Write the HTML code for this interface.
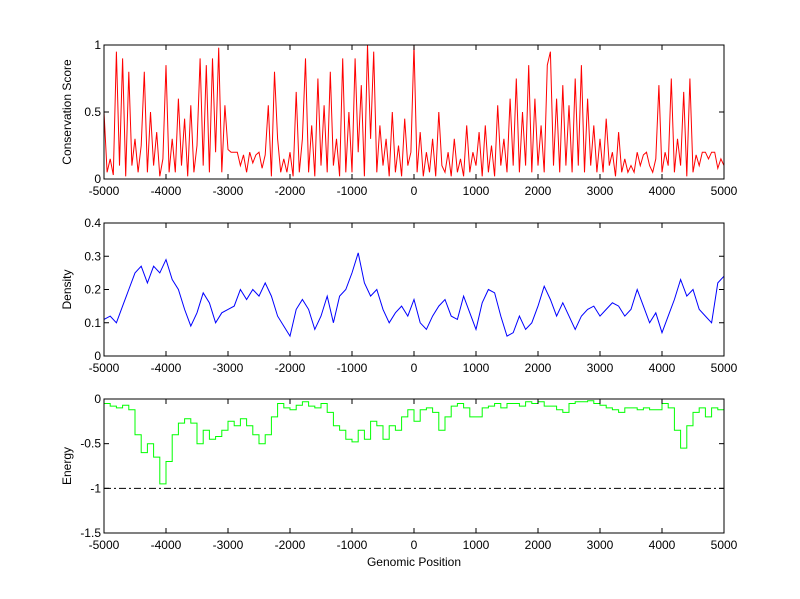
<!DOCTYPE html>
<html><head><meta charset="utf-8"><style>
html,body{margin:0;padding:0;background:#fff;}
svg{display:block;font-family:"Liberation Sans",Arial,sans-serif;font-size:12px;}
</style></head><body>
<svg id="fig" width="800" height="599" viewBox="0 0 800 599" xmlns="http://www.w3.org/2000/svg">
<rect width="800" height="599" fill="#fff"/>
</svg>
<script>
const xTicks=[-5000,-4000,-3000,-2000,-1000,0,1000,2000,3000,4000,5000];
const consTicks=[0,0.5,1];
const densTicks=[0,0.1,0.2,0.3,0.4];
const energyTicks=[-1.5,-1,-0.5,0];
const consStart=-5000, consStep=50;
const conservation=[0.5,0.05,0.15,0.03,0.95,0.1,0.9,0.02,0.8,0.1,
0.3,0.05,0.25,0.8,0.05,0.5,0.1,0.35,0.02,0.15,
0.85,0.05,0.3,0.05,0.6,0.1,0.45,0.02,0.55,0.05,
0.25,0.9,0.1,0.85,0.05,0.9,0.2,0.98,0.05,0.55,
0.22,0.2,0.2,0.2,0.1,0.18,0.05,0.2,0.12,0.18,
0.2,0.08,0.18,0.55,0.02,0.8,0.3,0.05,0.15,0.05,
0.2,0.02,0.65,0.05,0.3,0.9,0.05,0.4,0.02,0.75,
0.1,0.55,0.05,0.8,0.1,0.3,0.02,0.9,0.05,0.5,
0.05,0.9,0.2,0.7,0.02,1.0,0.3,0.95,0.05,0.4,
0.1,0.3,0.02,0.5,0.05,0.25,0.02,0.45,0.1,0.2,
1.0,0.05,0.35,0.02,0.2,0.05,0.3,0.02,0.5,0.1,
0.05,0.2,0.02,0.3,0.05,0.15,0.02,0.4,0.05,0.2,
0.1,0.35,0.02,0.4,0.05,0.25,0.02,0.55,0.1,0.3,
0.05,0.6,0.1,0.75,0.05,0.5,0.1,0.85,0.05,0.6,
0.1,0.4,0.05,0.85,0.95,0.1,0.6,0.05,0.7,0.1,
0.55,0.05,0.75,0.1,0.85,0.05,0.6,0.1,0.4,0.05,
0.3,0.05,0.45,0.1,0.2,0.02,0.35,0.05,0.15,0.05,
0.1,0.05,0.2,0.1,0.18,0.2,0.1,0.05,0.15,0.7,
0.05,0.2,0.1,0.75,0.05,0.3,0.1,0.65,0.02,0.75,
0.05,0.18,0.1,0.2,0.2,0.15,0.2,0.2,0.08,0.15,0.1];
const densStart=-5000, densStep=100;
const density=[0.11,0.12,0.1,0.15,0.2,0.25,0.27,0.22,0.27,0.25,0.29,0.23,0.2,0.14,0.09,0.13,0.19,0.16,0.1,0.13,
0.14,0.15,0.2,0.17,0.2,0.18,0.22,0.18,0.12,0.09,0.06,0.14,0.17,0.14,0.08,0.12,0.18,0.1,0.18,0.2,
0.25,0.31,0.22,0.18,0.2,0.14,0.1,0.13,0.15,0.12,0.17,0.1,0.08,0.12,0.15,0.17,0.12,0.11,0.18,0.13,
0.08,0.16,0.2,0.19,0.12,0.06,0.07,0.12,0.08,0.1,0.15,0.21,0.17,0.12,0.16,0.12,0.08,0.12,0.14,0.15,
0.12,0.14,0.16,0.15,0.12,0.14,0.2,0.15,0.1,0.13,0.07,0.12,0.17,0.23,0.18,0.2,0.14,0.12,0.1,0.22,0.24];
const energyStart=-5000, energyStep=100;
const energy=[-0.05,-0.08,-0.1,-0.07,-0.12,-0.4,-0.6,-0.5,-0.65,-0.95,-0.7,-0.4,-0.27,-0.22,-0.27,-0.5,-0.35,-0.45,-0.42,-0.35,
-0.25,-0.3,-0.22,-0.3,-0.4,-0.5,-0.4,-0.2,-0.05,-0.1,-0.12,-0.07,-0.03,-0.08,-0.1,-0.05,-0.15,-0.3,-0.35,-0.45,
-0.48,-0.35,-0.45,-0.25,-0.3,-0.45,-0.3,-0.35,-0.2,-0.12,-0.25,-0.12,-0.1,-0.15,-0.35,-0.2,-0.08,-0.05,-0.1,-0.2,
-0.2,-0.1,-0.08,-0.05,-0.1,-0.05,-0.05,-0.08,-0.03,-0.05,-0.03,-0.08,-0.08,-0.12,-0.15,-0.05,-0.03,-0.03,-0.02,-0.05,
-0.07,-0.1,-0.12,-0.15,-0.1,-0.1,-0.12,-0.1,-0.12,-0.12,-0.05,-0.1,-0.35,-0.55,-0.3,-0.15,-0.1,-0.2,-0.1,-0.12,-0.15];
const threshold=-1;

const NS="http://www.w3.org/2000/svg";
const svg=document.getElementById('fig');
const X0=104,X1=724;
function xs(v){return X0+(v+5000)/10000*(X1-X0);}
function mk(tag,attrs,parent){const e=document.createElementNS(NS,tag);for(const k in attrs)e.setAttribute(k,attrs[k]);(parent||svg).appendChild(e);return e;}

function axes(name,top,bot,ymin,ymax,yt,ylabel){
  const ys=v=>bot-(v-ymin)/(ymax-ymin)*(bot-top);
  const g=mk('g',{});
  
  
  return {g,ys,top,bot,ymin,ymax,yt,ylabel};
}
function frame(a){
  const {g,ys,top,bot,yt}=a;
  const box=mk('rect',{x:X0,y:top,width:X1-X0,height:bot-top,fill:'none',stroke:'#000','stroke-width':1},g);
  
  
  xTicks.forEach(t=>{
    const x=xs(t);
    mk('line',{x1:x,y1:bot,x2:x,y2:bot-5,stroke:'#000'},g);
    mk('line',{x1:x,y1:top,x2:x,y2:top+5,stroke:'#000'},g);
    const tx=mk('text',{x:x,y:bot+16,'text-anchor':'middle'},g);
    tx.textContent=t;
    
    
  });
  yt.forEach(t=>{
    const y=ys(t);
    mk('line',{x1:X0,y1:y,x2:X0+5,y2:y,stroke:'#000'},g);
    mk('line',{x1:X1,y1:y,x2:X1-5,y2:y,stroke:'#000'},g);
    const tx=mk('text',{x:X0-3,y:y+4,'text-anchor':'end'},g);
    tx.textContent=t;
    
    
  });
  const cy=(top+bot)/2;
  const yl=mk('text',{x:71,y:cy,'text-anchor':'middle',transform:`rotate(-90 71 ${cy})`},g);
  yl.textContent=a.ylabel;
  
  
}
function clip(a,id){
  const c=mk('clipPath',{id:id});
  mk('rect',{x:X0,y:a.top,width:X1-X0,height:a.bot-a.top},c);
  return `url(#${id})`;
}

// Conservation
const a1=axes('conservation-panel',45,179,0,1,consTicks,'Conservation Score');
let d='';
conservation.forEach((v,i)=>{d+=(i?'L':'M')+xs(consStart+i*consStep).toFixed(1)+','+a1.ys(v).toFixed(1);});
const p1=mk('path',{d:d,fill:'none',stroke:'#ff0000','stroke-width':1,'clip-path':clip(a1,'c1')},a1.g);


frame(a1);

// Density
const a2=axes('density-panel',223,356,0,0.4,densTicks,'Density');
d='';
density.forEach((v,i)=>{d+=(i?'L':'M')+xs(densStart+i*densStep).toFixed(1)+','+a2.ys(v).toFixed(1);});
const p2=mk('path',{d:d,fill:'none',stroke:'#0000ff','stroke-width':1,'clip-path':clip(a2,'c2')},a2.g);


frame(a2);

// Energy
const a3=axes('energy-panel',399,533,-1.5,0,energyTicks,'Energy');
const th=mk('line',{x1:X0,x2:X1,y1:a3.ys(threshold),y2:a3.ys(threshold),stroke:'#000','stroke-dasharray':'7,3,2,3'},a3.g);


d='';
energy.forEach((v,i)=>{
  const x=xs(energyStart+i*energyStep).toFixed(1), y=a3.ys(v).toFixed(1);
  d+=(i?'H'+x+'V'+y:'M'+x+','+y);
});
const p3=mk('path',{d:d,fill:'none',stroke:'#00ff00','stroke-width':1,'clip-path':clip(a3,'c3')},a3.g);


frame(a3);

const xl=mk('text',{x:(X0+X1)/2,y:566,'text-anchor':'middle'});
xl.textContent='Genomic Position';


</script>
</body></html>
